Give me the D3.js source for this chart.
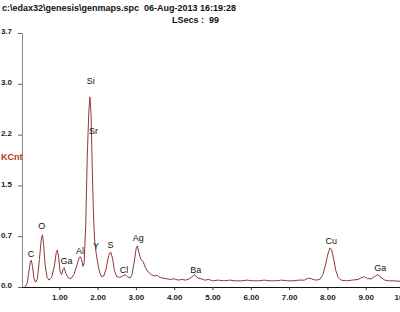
<!DOCTYPE html>
<html>
<head>
<meta charset="utf-8">
<script src="https://cdn.jsdelivr.net/npm/d3@7"></script>
<style>
  body { margin: 0; background: #fff; }
  svg { display: block; font-family: "Liberation Sans", Arial, sans-serif; }
</style>
</head>
<body>
<div class="chart"></div>
<script>
// spectrum: energy (keV) and counts (KCnt)
var energy = [0.10, 0.16, 0.20, 0.24, 0.27, 0.30, 0.34, 0.38, 0.43, 0.48, 0.53, 0.56, 0.59, 0.63, 0.68, 0.73,
  0.80, 0.87, 0.92, 0.95, 0.98, 1.02, 1.06, 1.10, 1.13, 1.17, 1.24, 1.30, 1.38, 1.46, 1.52, 1.55, 1.58, 1.62,
  1.65, 1.69, 1.73, 1.77, 1.80, 1.83, 1.86, 1.89, 1.92, 1.96, 2.00, 2.05, 2.10, 2.16, 2.22, 2.29, 2.34, 2.39,
  2.44, 2.50, 2.58, 2.65, 2.72, 2.78, 2.85, 2.90, 2.96, 3.01, 3.04, 3.08, 3.13, 3.19, 3.25, 3.32, 3.40, 3.48,
  3.55, 3.62, 3.70, 3.80, 3.90, 4.00, 4.10, 4.20, 4.30, 4.40, 4.47, 4.54, 4.62, 4.70, 4.80, 4.90, 5.00, 5.15,
  5.30, 5.45, 5.60, 5.75, 5.90, 6.05, 6.20, 6.35, 6.50, 6.65, 6.80, 6.95, 7.10, 7.25, 7.40, 7.50, 7.58, 7.70,
  7.80, 7.88, 7.95, 8.00, 8.04, 8.07, 8.11, 8.16, 8.22, 8.28, 8.35, 8.50, 8.65, 8.80, 8.90, 8.97, 9.05, 9.15,
  9.25, 9.32, 9.40, 9.50, 9.60, 9.75, 9.95];
var counts = [0.00, 0.05, 0.20, 0.36, 0.39, 0.30, 0.12, 0.07, 0.12, 0.40, 0.70, 0.76, 0.62, 0.32, 0.14, 0.10,
  0.14, 0.30, 0.50, 0.54, 0.45, 0.22, 0.18, 0.26, 0.28, 0.20, 0.13, 0.12, 0.18, 0.32, 0.43, 0.44, 0.40, 0.30,
  0.36, 0.90, 1.90, 2.55, 2.77, 2.50, 1.75, 1.10, 0.70, 0.50, 0.36, 0.22, 0.15, 0.16, 0.26, 0.46, 0.51, 0.42,
  0.24, 0.15, 0.14, 0.16, 0.18, 0.15, 0.13, 0.18, 0.38, 0.57, 0.60, 0.50, 0.40, 0.37, 0.28, 0.22, 0.18, 0.16,
  0.17, 0.14, 0.13, 0.12, 0.11, 0.12, 0.10, 0.11, 0.10, 0.12, 0.15, 0.18, 0.13, 0.12, 0.10, 0.11, 0.09, 0.10,
  0.09, 0.10, 0.09, 0.09, 0.10, 0.09, 0.09, 0.10, 0.09, 0.09, 0.10, 0.09, 0.09, 0.10, 0.10, 0.13, 0.12, 0.10,
  0.11, 0.18, 0.32, 0.45, 0.53, 0.57, 0.54, 0.42, 0.24, 0.14, 0.10, 0.09, 0.10, 0.11, 0.14, 0.15, 0.12, 0.12,
  0.16, 0.18, 0.14, 0.10, 0.09, 0.09, 0.08];

// element labels: name, energy, count level of the label baseline
var peakNames  = ["Si", "Sr", "C", "O", "Ga", "Al", "Y", "S", "Cl", "Ag", "Ba", "Cu", "Ga"];
var peakEnergy = [1.82, 1.89, 0.26, 0.54, 1.19, 1.54, 1.96, 2.34, 2.69, 3.06, 4.56, 8.10, 9.38];
var peakLevel  = [2.96, 2.23, 0.44, 0.84, 0.34, 0.48, 0.55, 0.57, 0.20, 0.67, 0.20, 0.63, 0.23];

var xTicks = [1, 2, 3, 4, 5, 6, 7, 8, 9, 10];
var yTicks = [0, 0.74, 1.48, 2.22, 2.96, 3.7];

var svg = d3.select(".chart").append("svg")
  .attr("width", 400)
  .attr("height", 312);

// header text
svg.append("text")
  .attr("x", 2).attr("y", 11)
  .style("font-size", "9px").style("font-weight", "bold")
  .attr("fill", "#111")
  .attr("xml:space", "preserve")
  .text("c:\\edax32\\genesis\\genmaps.spc  06-Aug-2013 16:19:28");

svg.append("text")
  .attr("x", 172).attr("y", 23)
  .style("font-size", "9px").style("font-weight", "bold")
  .attr("fill", "#111")
  .attr("xml:space", "preserve")
  .text("LSecs :  99");

var x = d3.scaleLinear().domain([0, 10]).range([21, 404]);
var y = d3.scaleLinear().domain([0, 3.7]).range([287, 33]);

// y axis
var yAxis = svg.append("g")
  .attr("transform", "translate(22,0)")
  .call(d3.axisLeft(y).tickValues(yTicks).tickFormat(d3.format(".1f")).tickSize(4).tickSizeOuter(0));
yAxis.select(".domain").attr("stroke", "#888");
yAxis.selectAll(".tick line").attr("stroke", "#666");
yAxis.selectAll(".tick text")
  .attr("x", -10).attr("dy", "0.1em")
  .attr("text-anchor", "end")
  .style("font-size", "8px").style("font-weight", "bold")
  .style("font-family", "'Liberation Sans', Arial, sans-serif")
  .attr("fill", "#222");

svg.append("text")
  .attr("x", 1).attr("y", 160)
  .style("font-size", "9px").style("font-weight", "bold")
  .attr("fill", "#b0342e")
  .text("KCnt");

// spectrum
var spectrum = energy.map(function(e, i) { return [e, counts[i]]; });
var line = d3.line()
  .x(function(d) { return x(d[0]); })
  .y(function(d) { return y(d[1]); });

svg.append("path")
  .datum(spectrum)
  .attr("d", line)
  .attr("fill", "none")
  .attr("stroke", "#8e3a3a")
  .attr("stroke-width", 1);

// x axis
var xAxis = svg.append("g")
  .attr("transform", "translate(0,287)")
  .call(d3.axisBottom(x).tickValues(xTicks).tickFormat(d3.format(".2f")).tickSize(3).tickSizeOuter(0));
xAxis.select(".domain").attr("stroke", "#111").attr("d", "M22,0.5H404");
xAxis.selectAll(".tick line").attr("stroke", "#333");
xAxis.selectAll(".tick text")
  .attr("y", 7)
  .style("font-size", "8px").style("font-weight", "bold")
  .style("font-family", "'Liberation Sans', Arial, sans-serif")
  .attr("fill", "#222");

// peak labels
svg.selectAll(".peak")
  .data(peakNames)
  .enter()
  .append("text")
  .attr("class", "peak")
  .attr("x", function(d, i) { return x(peakEnergy[i]); })
  .attr("y", function(d, i) { return y(peakLevel[i]); })
  .attr("text-anchor", "middle")
  .style("font-size", "9px")
  .attr("fill", "#111")
  .text(function(d) { return d; });
</script>
</body>
</html>
